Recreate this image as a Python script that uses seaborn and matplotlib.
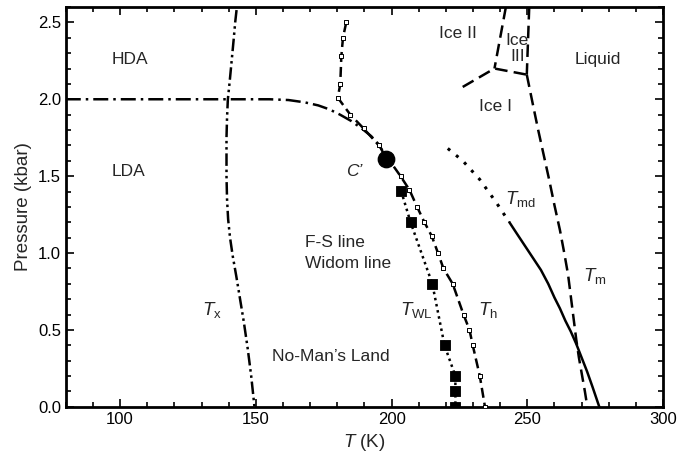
"""Phase diagram of supercooled water, P vs T."""

import matplotlib
matplotlib.use('Agg')
import matplotlib.pyplot as plt
import seaborn as sns
from matplotlib.ticker import MultipleLocator, FormatStrFormatter

# LDA / HDA boundary ending at the critical point C'
fs_T = [80, 120, 140, 155, 162, 168, 173, 177, 181, 185, 189, 192.5, 195.6, 198.0]
fs_P = [2.0, 2.0, 2.0, 2.0, 1.995, 1.98, 1.96, 1.935, 1.90, 1.86, 1.81, 1.76, 1.70, 1.61]

# critical point C'
cp_T = [198.0]
cp_P = [1.61]

# Widom line T_WL (filled squares)
wl_T = [203.5, 207.0, 215.0, 219.5, 223.5, 223.5, 223.5]
wl_P = [1.405, 1.20, 0.80, 0.40, 0.20, 0.10, 0.0]

# T_h homogeneous nucleation (open squares)
th_T = [183.3, 182.1, 181.5, 181.1, 180.2, 184.8, 189.7, 195.3, 203.3, 206.6,
        209.4, 212.1, 214.8, 217.1, 219.1, 222.5, 226.5, 228.7, 229.9, 232.5, 234.4]
th_P = [2.5, 2.4, 2.28, 2.1, 2.01, 1.9, 1.81, 1.7, 1.5, 1.41,
        1.3, 1.2, 1.11, 1.0, 0.9, 0.8, 0.6, 0.5, 0.4, 0.2, 0.0]

# T_x crystallization
tx_T = [142.9, 142.4, 141.9, 141.1, 140.4, 139.7, 139.4, 139.2, 139.2, 139.4, 139.8,
        140.5, 141.5, 142.8, 144.2, 145.6, 147.0, 148.3, 149.5]
tx_P = [2.58, 2.5, 2.4, 2.25, 2.12, 2.0, 1.88, 1.75, 1.5, 1.35, 1.22,
        1.1, 0.98, 0.85, 0.7, 0.55, 0.38, 0.2, 0.0]

# T_md, dotted (extrapolated) and solid part
tmd_dot_T = [220.7, 226.2, 232.4, 238.5, 241.5, 243.4]
tmd_dot_P = [1.68, 1.60, 1.48, 1.33, 1.25, 1.20]
tmd_T = [243.4, 246.0, 249.0, 252.0, 255.0, 257.7, 260.0, 262.0, 264.0, 266.0,
         268.0, 270.0, 272.0, 274.0, 276.5]
tmd_P = [1.20, 1.13, 1.05, 0.97, 0.89, 0.80, 0.71, 0.64, 0.56, 0.49,
         0.41, 0.32, 0.23, 0.13, 0.0]

# melting line T_m
tm_T = [249.8, 252.0, 254.0, 256.0, 258.0, 260.0, 262.0, 263.6, 265.0, 266.0,
        267.0, 268.0, 269.0, 270.2, 271.2, 272.1]
tm_P = [2.16, 1.97, 1.80, 1.64, 1.48, 1.31, 1.15, 1.0, 0.86, 0.72,
        0.58, 0.44, 0.32, 0.2, 0.1, 0.0]

# ice phase boundaries
ice_bot_T = [226.2, 237.9, 249.8]
ice_bot_P = [2.08, 2.20, 2.16]
ice3_left_T = [242.1, 237.9]
ice3_left_P = [2.6, 2.20]
ice3_right_T = [250.7, 249.8]
ice3_right_P = [2.6, 2.16]


def line(ax, x, y, ls, lw=1.8):
    sns.lineplot(x=x, y=y, ax=ax, sort=False, estimator=None, color='black',
                 linewidth=lw, linestyle=ls)


def main():
    sns.set_style('ticks')
    plt.rcParams['font.family'] = ['Liberation Sans', 'DejaVu Sans']
    plt.rcParams['mathtext.fontset'] = 'custom'
    plt.rcParams['mathtext.rm'] = 'Liberation Sans'
    plt.rcParams['mathtext.it'] = 'Liberation Sans:italic'

    fig = plt.figure(figsize=(6.78, 4.66), dpi=100)
    ax = fig.add_axes([0.097, 0.127, 0.881, 0.858])

    line(ax, fs_T, fs_P, (0, (6, 2, 1, 2)))
    line(ax, tx_T, tx_P, (0, (5, 1.5, 1, 1.5, 1, 1.5)))
    line(ax, wl_T, wl_P, (0, (1, 1.5)))
    line(ax, th_T, th_P, (0, (4, 2)))
    line(ax, tmd_dot_T, tmd_dot_P, (0, (1, 2.5)), lw=2.2)
    line(ax, tmd_T, tmd_P, '-')
    line(ax, tm_T, tm_P, (0, (5, 2.5)))
    line(ax, ice_bot_T, ice_bot_P, (0, (5, 2.5)))
    line(ax, ice3_left_T, ice3_left_P, (0, (5, 2.5)))
    line(ax, ice3_right_T, ice3_right_P, (0, (5, 2.5)))

    sns.scatterplot(x=th_T, y=th_P, ax=ax, marker='s', s=10, color='white',
                    edgecolor='black', linewidth=0.7, zorder=5)
    sns.scatterplot(x=wl_T, y=wl_P, ax=ax, marker='s', s=60, color='black',
                    edgecolor='black', zorder=6)
    sns.scatterplot(x=cp_T, y=cp_P, ax=ax, marker='o', s=140, color='black',
                    edgecolor='black', zorder=7)

    fsz = 12.5
    ax.text(103.7, 2.26, 'HDA', fontsize=fsz, ha='center', va='center')
    ax.text(103.0, 1.53, 'LDA', fontsize=fsz, ha='center', va='center')
    ax.text(224.4, 2.43, 'Ice II', fontsize=fsz, ha='center', va='center')
    ax.text(246.3, 2.33, 'Ice\nIII', fontsize=fsz, ha='center', va='center',
            linespacing=1.05)
    ax.text(275.8, 2.26, 'Liquid', fontsize=fsz, ha='center', va='center')
    ax.text(238.4, 1.95, 'Ice I', fontsize=fsz, ha='center', va='center')
    ax.text(186.4, 1.53, 'C\u2019', fontsize=fsz, style='italic', ha='center', va='center')
    ax.text(168.0, 1.07, 'F-S line', fontsize=fsz, ha='left', va='center')
    ax.text(168.0, 0.93, 'Widom line', fontsize=fsz, ha='left', va='center')
    ax.text(177.6, 0.33, 'No-Man\u2019s Land', fontsize=fsz, ha='center', va='center')
    ax.text(133.7, 0.63, r'$T_{\mathrm{x}}$', fontsize=fsz + 1, ha='center', va='center')
    ax.text(209.0, 0.63, r'$T_{\mathrm{WL}}$', fontsize=fsz + 1, ha='center', va='center')
    ax.text(235.6, 0.63, r'$T_{\mathrm{h}}$', fontsize=fsz + 1, ha='center', va='center')
    ax.text(247.3, 1.35, r'$T_{\mathrm{md}}$', fontsize=fsz + 1, ha='center', va='center')
    ax.text(274.8, 0.85, r'$T_{\mathrm{m}}$', fontsize=fsz + 1, ha='center', va='center')

    ax.set_xlim(80, 300)
    ax.set_ylim(0, 2.6)
    ax.xaxis.set_major_locator(MultipleLocator(50))
    ax.xaxis.set_minor_locator(MultipleLocator(10))
    ax.yaxis.set_major_locator(MultipleLocator(0.5))
    ax.yaxis.set_minor_locator(MultipleLocator(0.1))
    ax.yaxis.set_major_formatter(FormatStrFormatter('%.1f'))
    ax.tick_params(which='both', direction='in', top=True, right=True,
                   labelsize=12, width=1.2, colors='black')
    ax.tick_params(which='major', length=6)
    ax.tick_params(which='minor', length=3.5)
    for sp in ax.spines.values():
        sp.set_linewidth(2)
        sp.set_color('black')

    ax.set_xlabel(r'$T$ (K)', fontsize=13.5)
    ax.set_ylabel('Pressure (kbar)', fontsize=13.5)

    fig.savefig('out.png', dpi=100)
    plt.close(fig)


if __name__ == '__main__':
    main()
